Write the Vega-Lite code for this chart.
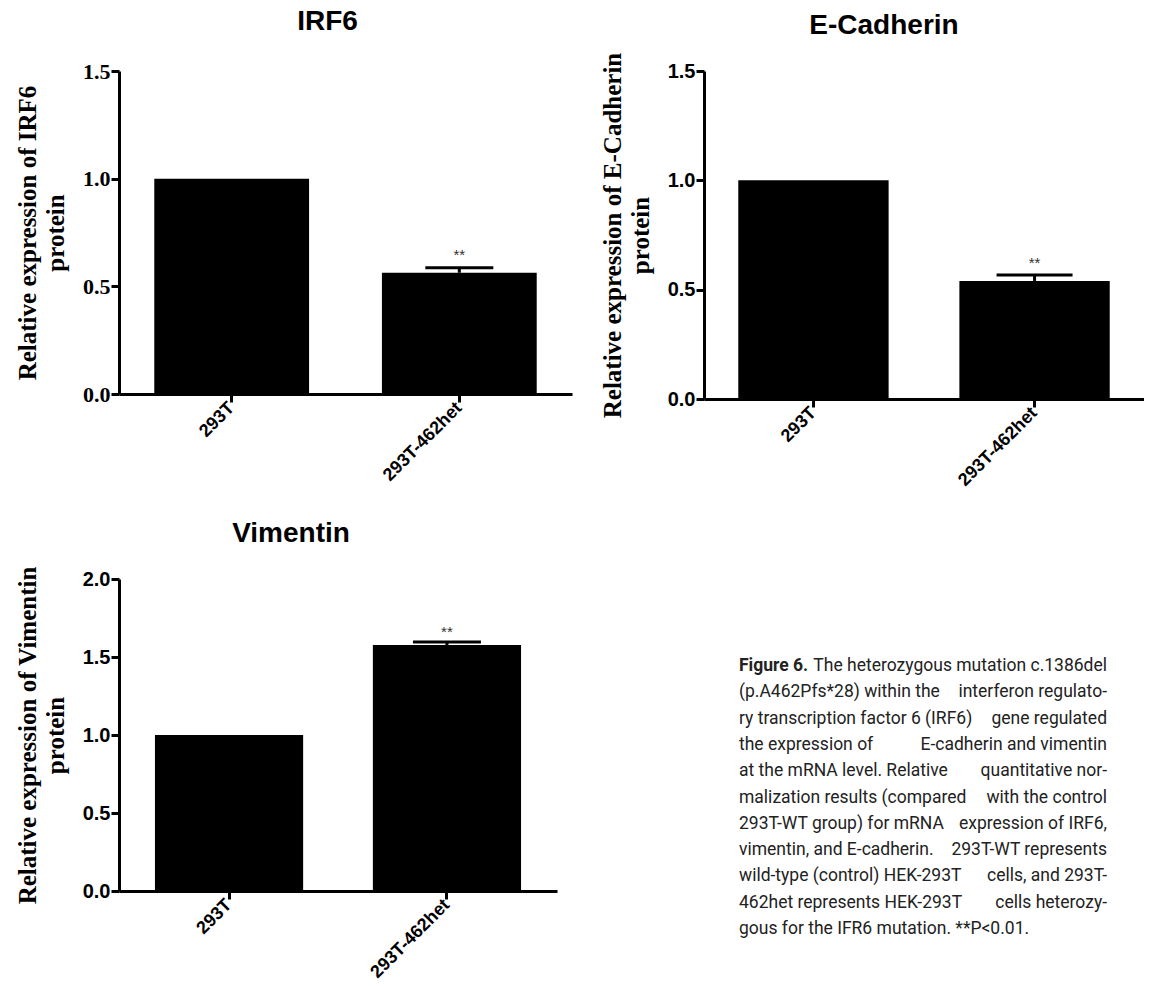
{
  "$schema": "https://vega.github.io/schema/vega-lite/v6.json",
  "usermeta": {"embedOptions": {"actions": false}},
  "background": "white",
  "padding": {"left": 15, "top": 8, "right": 0, "bottom": 0},
  "columns": 2,
  "bounds": "flush",
  "spacing": {"row": 180, "column": 132},
  "datasets": {
    "bars": [
      {"gene": "IRF6", "group": "293T", "value": 1.0, "upper": null, "sig": null},
      {"gene": "IRF6", "group": "293T-462het", "value": 0.563, "upper": 0.586, "sig": "**"},
      {"gene": "E-Cadherin", "group": "293T", "value": 1.0, "upper": null, "sig": null},
      {"gene": "E-Cadherin", "group": "293T-462het", "value": 0.54, "upper": 0.567, "sig": "**"},
      {"gene": "Vimentin", "group": "293T", "value": 1.0, "upper": null, "sig": null},
      {"gene": "Vimentin", "group": "293T-462het", "value": 1.577, "upper": 1.596, "sig": "**"}
    ],
    "caption": [
      {"line": 1, "part": "label", "text": "Figure 6."},
      {"line": 1, "part": "end", "text": "The heterozygous mutation c.1386del"},
      {"line": 2, "part": "start", "text": "(p.A462Pfs*28) within the"},
      {"line": 2, "part": "end", "text": "interferon regulato-"},
      {"line": 3, "part": "start", "text": "ry transcription factor 6 (IRF6)"},
      {"line": 3, "part": "end", "text": "gene regulated"},
      {"line": 4, "part": "start", "text": "the expression of"},
      {"line": 4, "part": "end", "text": "E-cadherin and vimentin"},
      {"line": 5, "part": "start", "text": "at the mRNA level. Relative"},
      {"line": 5, "part": "end", "text": "quantitative nor-"},
      {"line": 6, "part": "start", "text": "malization results (compared"},
      {"line": 6, "part": "end", "text": "with the control"},
      {"line": 7, "part": "start", "text": "293T-WT group) for mRNA"},
      {"line": 7, "part": "end", "text": "expression of IRF6,"},
      {"line": 8, "part": "start", "text": "vimentin, and E-cadherin."},
      {"line": 8, "part": "end", "text": "293T-WT represents"},
      {"line": 9, "part": "start", "text": "wild-type (control) HEK-293T"},
      {"line": 9, "part": "end", "text": "cells, and 293T-"},
      {"line": 10, "part": "start", "text": "462het represents HEK-293T"},
      {"line": 10, "part": "end", "text": "cells heterozy-"},
      {"line": 11, "part": "start", "text": "gous for the IFR6 mutation. **P<0.01."}
    ]
  },
  "config": {
    "view": {"stroke": null},
    "title": {"font": "Liberation Sans", "fontWeight": "bold", "fontSize": 28, "color": "black"},
    "axis": {
      "domainColor": "black", "domainWidth": 3, "tickColor": "black", "tickWidth": 3, "tickSize": 8,
      "grid": false, "labelColor": "black", "titleColor": "black"
    }
  },
  "concat": [
    {
      "width": 453, "height": 323,
      "title": {"text": "IRF6", "dx": -18, "offset": 24},
      "data": {"name": "bars"},
      "transform": [{"filter": "datum.gene === 'IRF6'"}],
      "encoding": {
        "x": {"field": "group", "type": "nominal", "sort": ["293T", "293T-462het"],
          "scale": {"paddingInner": 0.32, "paddingOuter": 0.155},
          "axis": {"title": null, "labelAngle": -45, "labelAlign": "right", "labelBaseline": "middle",
            "labelFont": "Liberation Sans", "labelFontWeight": "bold", "labelFontSize": 18, "labelPadding": 3}}
      },
      "layer": [
        {"mark": {"type": "bar", "color": "black"},
          "encoding": {"y": {"field": "value", "type": "quantitative", "scale": {"domain": [0, 1.5], "nice": false},
            "axis": {"values": [0, 0.5, 1, 1.5], "format": ".1f", "labelFont": "Liberation Serif", "labelFontWeight": "bold",
              "labelFontSize": 22, "labelPadding": 1,
              "title": ["Relative expression of  IRF6", "protein"], "titleFont": "Liberation Serif", "titleFontWeight": "bold",
              "titleFontSize": 25, "titleLineHeight": 28, "titlePadding": 14}}}},
        {"transform": [{"filter": "datum.upper != null"}],
          "mark": {"type": "rule", "color": "black", "strokeWidth": 3},
          "encoding": {"y": {"field": "value", "type": "quantitative", "scale": {"domain": [0, 1.5], "nice": false}}, "y2": {"field": "upper"}}},
        {"transform": [{"filter": "datum.upper != null"}],
          "mark": {"type": "tick", "color": "black", "opacity": 1, "thickness": 3, "size": 68},
          "encoding": {"y": {"field": "upper", "type": "quantitative", "scale": {"domain": [0, 1.5], "nice": false}}}},
        {"transform": [{"filter": "datum.upper != null"}],
          "mark": {"type": "text", "font": "Liberation Sans", "fontSize": 15, "color": "#333", "dy": -13, "baseline": "middle"},
          "encoding": {"y": {"field": "upper", "type": "quantitative", "scale": {"domain": [0, 1.5], "nice": false}}, "text": {"field": "sig"}}}
      ]
    },
    {
      "width": 440, "height": 328,
      "title": {"text": "E-Cadherin", "dx": -40, "offset": 9},
      "data": {"name": "bars"},
      "transform": [{"filter": "datum.gene === 'E-Cadherin'"}],
      "encoding": {
        "x": {"field": "group", "type": "nominal", "sort": ["293T", "293T-462het"],
          "scale": {"paddingInner": 0.32, "paddingOuter": 0.155},
          "axis": {"title": null, "labelAngle": -45, "labelAlign": "right", "labelBaseline": "middle",
            "labelFont": "Liberation Sans", "labelFontWeight": "bold", "labelFontSize": 18, "labelPadding": 3}}
      },
      "layer": [
        {"mark": {"type": "bar", "color": "black"},
          "encoding": {"y": {"field": "value", "type": "quantitative", "scale": {"domain": [0, 1.5], "nice": false},
            "axis": {"values": [0, 0.5, 1, 1.5], "format": ".1f", "labelFont": "Liberation Sans", "labelFontWeight": "bold",
              "labelFontSize": 20, "labelPadding": 1,
              "title": ["Relative expression of  E-Cadherin", "protein"], "titleFont": "Liberation Serif", "titleFontWeight": "bold",
              "titleFontSize": 25, "titleLineHeight": 28, "titlePadding": 14}}}},
        {"transform": [{"filter": "datum.upper != null"}],
          "mark": {"type": "rule", "color": "black", "strokeWidth": 3},
          "encoding": {"y": {"field": "value", "type": "quantitative", "scale": {"domain": [0, 1.5], "nice": false}}, "y2": {"field": "upper"}}},
        {"transform": [{"filter": "datum.upper != null"}],
          "mark": {"type": "tick", "color": "black", "opacity": 1, "thickness": 3, "size": 76},
          "encoding": {"y": {"field": "upper", "type": "quantitative", "scale": {"domain": [0, 1.5], "nice": false}}}},
        {"transform": [{"filter": "datum.upper != null"}],
          "mark": {"type": "text", "font": "Liberation Sans", "fontSize": 15, "color": "#333", "dy": -12, "baseline": "middle"},
          "encoding": {"y": {"field": "upper", "type": "quantitative", "scale": {"domain": [0, 1.5], "nice": false}}, "text": {"field": "sig"}}}
      ]
    },
    {
      "width": 438, "height": 312,
      "title": {"text": "Vimentin", "dx": -47, "offset": 15},
      "data": {"name": "bars"},
      "transform": [{"filter": "datum.gene === 'Vimentin'"}],
      "encoding": {
        "x": {"field": "group", "type": "nominal", "sort": ["293T", "293T-462het"],
          "scale": {"paddingInner": 0.32, "paddingOuter": 0.165},
          "axis": {"title": null, "labelAngle": -45, "labelAlign": "right", "labelBaseline": "middle",
            "labelFont": "Liberation Sans", "labelFontWeight": "bold", "labelFontSize": 18, "labelPadding": 3}}
      },
      "layer": [
        {"mark": {"type": "bar", "color": "black"},
          "encoding": {"y": {"field": "value", "type": "quantitative", "scale": {"domain": [0, 2], "nice": false},
            "axis": {"values": [0, 0.5, 1, 1.5, 2], "format": ".1f", "labelFont": "Liberation Sans", "labelFontWeight": "bold",
              "labelFontSize": 20, "labelPadding": 1,
              "title": ["Relative expression of  Vimentin", "protein"], "titleFont": "Liberation Serif", "titleFontWeight": "bold",
              "titleFontSize": 25, "titleLineHeight": 28, "titlePadding": 14}}}},
        {"transform": [{"filter": "datum.upper != null"}],
          "mark": {"type": "rule", "color": "black", "strokeWidth": 3},
          "encoding": {"y": {"field": "value", "type": "quantitative", "scale": {"domain": [0, 2], "nice": false}}, "y2": {"field": "upper"}}},
        {"transform": [{"filter": "datum.upper != null"}],
          "mark": {"type": "tick", "color": "black", "opacity": 1, "thickness": 3, "size": 68},
          "encoding": {"y": {"field": "upper", "type": "quantitative", "scale": {"domain": [0, 2], "nice": false}}}},
        {"transform": [{"filter": "datum.upper != null"}],
          "mark": {"type": "text", "font": "Liberation Sans", "fontSize": 15, "color": "#333", "dy": -10, "baseline": "middle"},
          "encoding": {"y": {"field": "upper", "type": "quantitative", "scale": {"domain": [0, 2], "nice": false}}, "text": {"field": "sig"}}}
      ]
    },
    {
      "width": 440, "height": 370,
      "data": {"name": "caption"},
      "encoding": {
        "y": {"field": "line", "type": "ordinal", "scale": {"type": "point", "range": [87, 350], "padding": 0}, "axis": null},
        "text": {"field": "text"}
      },
      "layer": [
        {"transform": [{"filter": "datum.part === 'label'"}],
          "mark": {"type": "text", "font": "Roboto", "fontSize": 17.5, "fontWeight": "bold", "color": "#222", "align": "left", "baseline": "middle"},
          "encoding": {"x": {"value": 35}}},
        {"transform": [{"filter": "datum.part === 'start'"}],
          "mark": {"type": "text", "font": "Roboto", "fontSize": 17.5, "color": "#222", "align": "left", "baseline": "middle"},
          "encoding": {"x": {"value": 35}}},
        {"transform": [{"filter": "datum.part === 'end'"}],
          "mark": {"type": "text", "font": "Roboto", "fontSize": 17.5, "color": "#222", "align": "right", "baseline": "middle"},
          "encoding": {"x": {"value": 403}}}
      ]
    }
  ]
}
